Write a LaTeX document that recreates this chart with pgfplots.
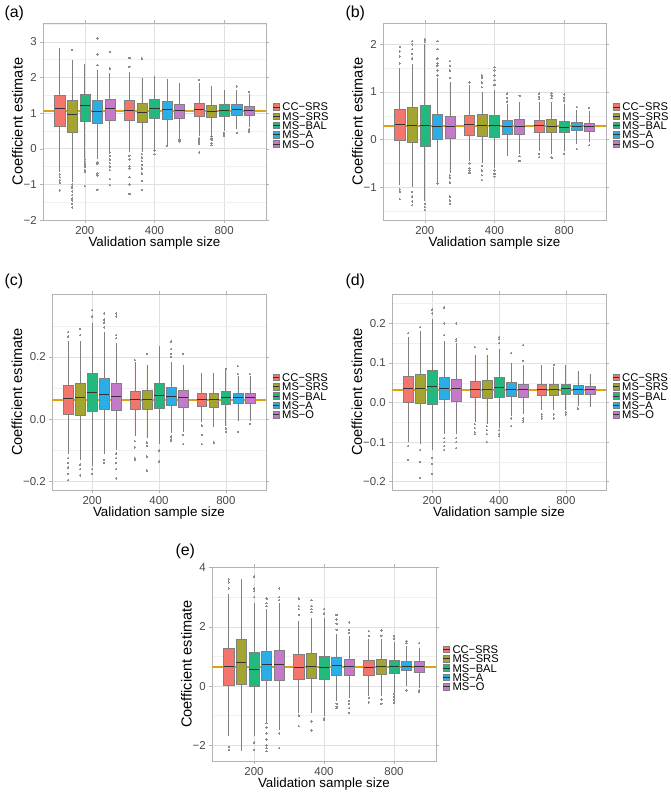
\documentclass[border=0pt]{standalone}
\usepackage{fontspec}
\setmainfont{Liberation Sans}
\usepackage{pgfplots}
\pgfplotsset{compat=1.18}
\usepgfplotslibrary{statistics}

\definecolor{cCC}{HTML}{F2766E}
\definecolor{cSRS}{HTML}{A4A531}
\definecolor{cBAL}{HTML}{23B87E}
\definecolor{cA}{HTML}{2BAEE5}
\definecolor{cO}{HTML}{C47AC8}
\definecolor{refline}{HTML}{E0A014}

% one box: position, colour, lower whisker, Q1, median, Q3, upper whisker, outliers
\newcommand{\bx}[8]{\addplot[forget plot, fill=#2, mark=*, mark size=0.7bp,
  mark options={draw=black!45, fill=black!45, line width=0pt},
  boxplot prepared={draw position=#1, lower whisker=#3, lower quartile=#4,
  median=#5, upper quartile=#6, upper whisker=#7}] coordinates {#8};}

\newcommand{\legendboxes}{%
  \addlegendimage{bxleg=cCC}\addlegendentry{CC−SRS}
  \addlegendimage{bxleg=cSRS}\addlegendentry{MS−SRS}
  \addlegendimage{bxleg=cBAL}\addlegendentry{MS−BAL}
  \addlegendimage{bxleg=cA}\addlegendentry{MS−A}
  \addlegendimage{bxleg=cO}\addlegendentry{MS−O}}

\pgfplotsset{
  panel/.style={
    scale only axis, xmin=0.4, xmax=3.6,
    xtick={1,2,3}, xticklabels={200,400,800},
    axis line style={draw=black!30},
    grid=both,
    major grid style={draw=black!12, line width=0.6bp},
    minor grid style={draw=black!6, line width=0.4bp},
    tick align=outside, major tick length=2.8bp, minor tick length=0pt,
    every tick/.style={draw=black!30, line width=0.5bp},
    ticklabel style={font=\fontsize{11.5}{11.5}\selectfont, text=black!72},
    xlabel={Validation sample size}, ylabel={Coefficient estimate},
    xlabel style={font=\fontsize{13.4}{13.4}\selectfont, yshift=4bp},
    ylabel style={font=\fontsize{14.6}{14.6}\selectfont, yshift=-6bp},
    boxplot/draw direction=y,
    boxplot/box extend=0.145, boxplot/whisker extend=0,
    boxplot/every box/.style={draw=black!50, line width=0.5bp},
    boxplot/every whisker/.style={draw=black!50, line width=0.8bp},
    boxplot/every median/.style={draw=black!80, line width=1bp},
    legend style={at={(1.03,0.48)}, anchor=west, draw=none, fill=none,
      font=\fontsize{11.2}{11.2}\selectfont, row sep=0pt, column sep=2bp, inner sep=0pt,
      nodes={inner sep=0.5bp, text height=8.3bp, text depth=0bp}},
    legend cell align=left,
  },
  bxleg/.style={legend image code/.code={
    \draw[fill=#1, draw=black!50, line width=0.5bp] (0bp,-3.3bp) rectangle (6.5bp,3.3bp);
    \draw[black!80, line width=0.6bp] (0bp,0bp) -- (6.5bp,0bp);}},
}

\begin{document}
\begin{tikzpicture}
\path[use as bounding box] (0,0) rectangle (671bp,-795bp);

% (a)
\node[anchor=west, font=\fontsize{16}{16}\selectfont] at (1bp,-13.5bp) {(a)};
\begin{axis}[panel, at={(43bp,-23bp)}, anchor=north west, width=223bp, height=197bp,
  ymin=-2, ymax=3.53, ytick={-2,-1,0,1,2,3}, yticklabels={−2,−1,0,1,2,3},
  minor ytick={-1.5,-0.5,0.5,1.5,2.5,3.5}]
\addplot[forget plot, refline, line width=2.2bp] coordinates {(0.4,1.06) (3.6,1.06)};
\bx{0.64}{cCC}{-0.65}{0.62}{1.12}{1.49}{2.82}{(0,-0.72)(0,-0.8)(0,-0.88)(0,-0.95)(0,-1.17)}
\bx{0.82}{cSRS}{-0.93}{0.46}{0.97}{1.35}{2.5}{(0,2.78)(0,-1.0)(0,-1.05)(0,-1.1)(0,-1.2)(0,-1.3)(0,-1.4)(0,-1.45)(0,-1.55)(0,-1.65)}
\bx{1.00}{cBAL}{-0.25}{0.77}{1.21}{1.52}{2.38}{(0,-0.3)(0,-0.35)(0,-0.4)(0,-0.45)(0,-0.5)(0,-0.6)(0,-0.65)(0,-1.05)}
\bx{1.18}{cA}{-0.3}{0.71}{1.04}{1.36}{2.22}{(0,2.35)(0,2.65)(0,3.1)(0,-0.38)(0,-0.42)(0,-0.7)(0,-0.75)(0,-1.15)}
\bx{1.36}{cO}{-0.05}{0.81}{1.13}{1.39}{2.12}{(0,2.25)(0,2.72)(0,-0.1)(0,-0.2)(0,-0.3)(0,-0.4)(0,-0.5)(0,-0.6)(0,-0.85)(0,-1.02)}
\bx{1.64}{cCC}{-0.1}{0.79}{1.08}{1.37}{2.15}{(0,2.3)(0,2.55)(0,-0.2)(0,-0.3)(0,-0.5)(0,-0.55)(0,-0.8)(0,-1.0)(0,-1.27)}
\bx{1.82}{cSRS}{-0.1}{0.73}{1.03}{1.28}{2.0}{(0,2.53)(0,-0.15)(0,-0.25)(0,-0.35)(0,-0.45)(0,-0.55)(0,-0.7)(0,-0.9)(0,-1.15)}
\bx{2.00}{cBAL}{0.0}{0.85}{1.13}{1.40}{2.03}{(0,-0.05)(0,-0.15)}
\bx{2.18}{cA}{0.1}{0.83}{1.09}{1.32}{1.97}{(0,0.08)}
\bx{2.36}{cO}{0.3}{0.87}{1.06}{1.25}{1.85}{(0,0.27)(0,0.22)(0,0.2)}
\bx{2.64}{cCC}{0.35}{0.90}{1.10}{1.27}{1.85}{(0,1.93)(0,0.3)(0,0.25)(0,0.2)(0,0.15)(0,-0.1)}
\bx{2.82}{cSRS}{0.4}{0.88}{1.05}{1.22}{1.75}{(0,0.35)(0,0.3)(0,0.25)(0,0.15)(0,0.1)}
\bx{3.00}{cBAL}{0.5}{0.92}{1.08}{1.25}{1.65}{(0,0.45)(0,0.4)(0,0.35)}
\bx{3.18}{cA}{0.55}{0.94}{1.09}{1.25}{1.65}{(0,1.75)(0,0.45)}
\bx{3.36}{cO}{0.6}{0.94}{1.08}{1.20}{1.55}{(0,1.6)(0,0.55)(0,0.5)(0,0.47)}
\legendboxes
\end{axis}

% (b)
\node[anchor=west, font=\fontsize{16}{16}\selectfont] at (342bp,-13.5bp) {(b)};
\begin{axis}[panel, at={(383bp,-23bp)}, anchor=north west, width=223bp, height=197bp,
  ymin=-1.69, ymax=2.45, ytick={-1,0,1,2}, yticklabels={−1,0,1,2},
  minor ytick={-1.5,-0.5,0.5,1.5}]
\addplot[forget plot, refline, line width=2.2bp] coordinates {(0.4,0.28) (3.6,0.28)};
\bx{0.64}{cCC}{-0.95}{-0.02}{0.31}{0.64}{1.5}{(0,1.6)(0,1.75)(0,1.85)(0,1.95)(0,-1.05)(0,-1.1)(0,-1.25)}
\bx{0.82}{cSRS}{-1.0}{-0.05}{0.30}{0.67}{1.58}{(0,1.7)(0,1.8)(0,1.9)(0,2.0)(0,2.07)(0,-1.1)(0,-1.2)(0,-1.3)(0,-1.38)}
\bx{1.00}{cBAL}{-1.3}{-0.13}{0.29}{0.73}{2.0}{(0,2.05)(0,2.1)(0,-1.35)(0,-1.42)(0,-1.48)}
\bx{1.18}{cA}{-0.9}{0.01}{0.27}{0.53}{1.3}{(0,1.35)(0,1.45)(0,1.55)(0,1.6)(0,1.7)(0,1.9)(0,2.07)(0,-0.92)}
\bx{1.36}{cO}{-0.7}{0.03}{0.27}{0.49}{1.2}{(0,1.3)(0,1.45)(0,1.55)(0,1.65)(0,-0.75)(0,-0.8)(0,-0.9)(0,-1.2)(0,-1.28)(0,-1.35)}
\bx{1.64}{cCC}{-0.45}{0.09}{0.31}{0.51}{1.15}{(0,1.2)(0,-0.5)(0,-0.6)(0,-0.65)(0,-0.7)}
\bx{1.82}{cSRS}{-0.5}{0.08}{0.30}{0.53}{1.0}{(0,1.1)(0,1.2)(0,1.3)(0,1.35)(0,-0.55)(0,-0.65)(0,-0.75)(0,-0.85)}
\bx{2.00}{cBAL}{-0.6}{0.04}{0.29}{0.51}{1.05}{(0,1.15)(0,1.25)(0,1.35)(0,1.45)(0,1.52)(0,-0.65)(0,-0.72)(0,-0.78)}
\bx{2.18}{cA}{-0.35}{0.11}{0.27}{0.41}{0.75}{(0,0.8)(0,0.88)(0,0.97)}
\bx{2.36}{cO}{-0.3}{0.11}{0.27}{0.43}{0.8}{(0,0.92)(0,-0.35)(0,-0.45)}
\bx{2.64}{cCC}{-0.25}{0.15}{0.29}{0.41}{0.8}{(0,0.85)(0,0.9)(0,0.97)(0,-0.3)(0,-0.37)}
\bx{2.82}{cSRS}{-0.3}{0.15}{0.28}{0.43}{0.8}{(0,0.87)(0,0.92)(0,0.97)(0,-0.38)}
\bx{3.00}{cBAL}{-0.25}{0.15}{0.26}{0.39}{0.75}{(0,0.82)(0,0.88)(0,0.95)(0,-0.3)}
\bx{3.18}{cA}{-0.1}{0.19}{0.28}{0.36}{0.62}{(0,0.68)(0,-0.2)}
\bx{3.36}{cO}{-0.05}{0.18}{0.27}{0.35}{0.6}{(0,0.67)(0,-0.12)}
\legendboxes
\end{axis}

% (c)
\node[anchor=west, font=\fontsize{16}{16}\selectfont] at (1bp,-281bp) {(c)};
\begin{axis}[panel, at={(52bp,-294bp)}, anchor=north west, width=214bp, height=196bp,
  ymin=-0.227, ymax=0.402, ytick={-0.2,0,0.2}, yticklabels={−0.2,0.0,0.2},
  minor ytick={-0.1,0.1,0.3}]
\addplot[forget plot, refline, line width=2.2bp] coordinates {(0.4,0.062) (3.6,0.062)};
\bx{0.64}{cCC}{-0.11}{0.017}{0.067}{0.109}{0.25}{(0,0.265)(0,0.28)(0,-0.125)(0,-0.14)(0,-0.155)(0,-0.175)(0,-0.195)}
\bx{0.82}{cSRS}{-0.13}{0.012}{0.069}{0.115}{0.25}{(0,0.27)(0,0.29)(0,-0.145)(0,-0.16)(0,-0.18)}
\bx{1.00}{cBAL}{-0.15}{0.025}{0.086}{0.149}{0.31}{(0,0.33)(0,0.35)(0,-0.16)(0,-0.175)}
\bx{1.18}{cA}{-0.11}{0.031}{0.080}{0.132}{0.28}{(0,0.295)(0,0.31)(0,0.32)(0,0.34)(0,-0.13)(0,-0.14)}
\bx{1.36}{cO}{-0.1}{0.028}{0.074}{0.115}{0.245}{(0,0.26)(0,0.27)(0,0.33)(0,0.34)(0,-0.11)(0,-0.125)(0,-0.14)(0,-0.16)(0,-0.19)}
\bx{1.64}{cCC}{-0.055}{0.031}{0.062}{0.090}{0.185}{(0,0.19)(0,-0.07)(0,-0.09)(0,-0.125)(0,-0.13)}
\bx{1.82}{cSRS}{-0.06}{0.031}{0.062}{0.092}{0.175}{(0,0.21)(0,-0.075)(0,-0.085)(0,-0.12)(0,-0.165)}
\bx{2.00}{cBAL}{-0.08}{0.036}{0.075}{0.114}{0.235}{(0,-0.1)(0,-0.135)}
\bx{2.18}{cA}{-0.045}{0.044}{0.072}{0.102}{0.185}{(0,0.2)(0,0.21)(0,0.225)(0,0.25)(0,-0.055)(0,-0.065)(0,-0.07)}
\bx{2.36}{cO}{-0.04}{0.040}{0.069}{0.093}{0.175}{(0,0.21)(0,-0.05)(0,-0.08)}
\bx{2.64}{cCC}{-0.01}{0.041}{0.064}{0.082}{0.15}{(0,-0.02)(0,-0.05)(0,-0.08)}
\bx{2.82}{cSRS}{-0.025}{0.040}{0.063}{0.082}{0.15}{(0,-0.075)}
\bx{3.00}{cBAL}{-0.02}{0.049}{0.071}{0.091}{0.16}{(0,0.162)(0,-0.03)(0,-0.04)}
\bx{3.18}{cA}{-0.005}{0.052}{0.069}{0.083}{0.14}{(0,0.145)(0,0.17)(0,-0.04)}
\bx{3.36}{cO}{-0.005}{0.052}{0.070}{0.084}{0.14}{(0,0.145)(0,-0.015)}
\legendboxes
\end{axis}

% (d)
\node[anchor=west, font=\fontsize{16}{16}\selectfont] at (342bp,-281bp) {(d)};
\begin{axis}[panel, at={(392bp,-294bp)}, anchor=north west, width=214bp, height=196bp,
  ymin=-0.221, ymax=0.274, ytick={-0.2,-0.1,0,0.1,0.2}, yticklabels={−0.2,−0.1,0.0,0.1,0.2},
  minor ytick={-0.15,-0.05,0.05,0.15,0.25}]
\addplot[forget plot, refline, line width=2.2bp] coordinates {(0.4,0.031) (3.6,0.031)};
\bx{0.64}{cCC}{-0.1}{0.0}{0.035}{0.067}{0.165}{(0,0.175)(0,-0.11)(0,-0.145)}
\bx{0.82}{cSRS}{-0.105}{-0.002}{0.035}{0.072}{0.18}{(0,0.19)(0,-0.12)(0,-0.15)(0,-0.19)}
\bx{1.00}{cBAL}{-0.12}{-0.004}{0.040}{0.081}{0.21}{(0,0.225)(0,0.235)(0,-0.14)(0,-0.155)(0,-0.18)}
\bx{1.18}{cA}{-0.08}{0.007}{0.035}{0.063}{0.155}{(0,0.17)(0,0.2)(0,0.24)(0,-0.09)(0,-0.1)(0,-0.11)(0,-0.12)}
\bx{1.36}{cO}{-0.08}{0.003}{0.035}{0.059}{0.15}{(0,0.155)(0,0.16)(0,0.2)(0,-0.09)(0,-0.1)(0,-0.115)}
\bx{1.64}{cCC}{-0.05}{0.013}{0.034}{0.053}{0.12}{(0,0.14)(0,-0.055)(0,-0.065)(0,-0.075)(0,-0.08)}
\bx{1.82}{cSRS}{-0.055}{0.011}{0.034}{0.056}{0.12}{(0,0.135)(0,-0.06)(0,-0.07)(0,-0.08)(0,-0.1)}
\bx{2.00}{cBAL}{-0.065}{0.012}{0.038}{0.063}{0.135}{(0,0.15)(0,0.16)(0,0.165)(0,-0.07)(0,-0.08)(0,-0.085)}
\bx{2.18}{cA}{-0.035}{0.016}{0.034}{0.051}{0.1}{(0,0.125)(0,-0.04)(0,-0.06)}
\bx{2.36}{cO}{-0.03}{0.014}{0.032}{0.045}{0.095}{(0,0.105)(0,0.145)(0,-0.04)(0,-0.045)(0,-0.05)}
\bx{2.64}{cCC}{-0.02}{0.019}{0.033}{0.045}{0.095}{(0,-0.03)(0,-0.035)(0,-0.04)}
\bx{2.82}{cSRS}{-0.02}{0.019}{0.034}{0.047}{0.09}{(0,0.095)(0,-0.03)(0,-0.04)}
\bx{3.00}{cBAL}{-0.02}{0.021}{0.035}{0.047}{0.095}{(0,-0.025)(0,-0.03)}
\bx{3.18}{cA}{-0.01}{0.022}{0.032}{0.043}{0.08}{(0,-0.015)}
\bx{3.36}{cO}{-0.012}{0.021}{0.032}{0.042}{0.072}{}
\legendboxes
\end{axis}

% (e)
\node[anchor=west, font=\fontsize{16}{16}\selectfont] at (172bp,-551bp) {(e)};
\begin{axis}[panel, at={(212bp,-567bp)}, anchor=north west, width=224bp, height=194bp,
  ymin=-2.53, ymax=4.02, ytick={-2,0,2,4}, yticklabels={−2,0,2,4},
  minor ytick={-1,1,3}]
\addplot[forget plot, refline, line width=2.2bp] coordinates {(0.4,0.65) (3.6,0.65)};
\bx{0.64}{cCC}{-1.7}{0.03}{0.65}{1.29}{3.12}{(0,3.3)(0,3.5)(0,3.6)(0,-2.05)(0,-2.15)}
\bx{0.82}{cSRS}{-2.19}{0.06}{0.80}{1.57}{3.63}{}
\bx{1.00}{cBAL}{-1.7}{0.01}{0.57}{1.13}{2.8}{(0,3.0)(0,3.2)(0,3.3)(0,3.7)(0,-1.9)(0,-2.15)}
\bx{1.18}{cA}{-1.2}{0.21}{0.72}{1.17}{2.6}{(0,2.7)(0,2.8)(0,2.95)(0,-1.25)(0,-1.4)(0,-1.6)(0,-1.8)(0,-2.0)(0,-2.1)(0,-2.2)}
\bx{1.36}{cO}{-1.5}{0.19}{0.73}{1.21}{2.8}{(0,2.9)(0,3.0)(0,3.3)(0,-1.6)(0,-2.1)}
\bx{1.64}{cCC}{-0.9}{0.24}{0.64}{1.06}{2.2}{(0,2.4)(0,2.6)(0,2.7)(0,2.95)(0,-1.0)(0,-1.35)}
\bx{1.82}{cSRS}{-0.9}{0.28}{0.67}{1.12}{2.3}{(0,2.5)(0,2.6)(0,2.7)(0,2.9)(0,-1.2)(0,-1.5)}
\bx{2.00}{cBAL}{-1.0}{0.24}{0.63}{1.02}{2.3}{(0,2.45)(0,2.6)(0,-1.1)(0,-1.15)}
\bx{2.18}{cA}{-0.5}{0.35}{0.70}{0.97}{1.75}{(0,1.9)(0,2.1)(0,2.25)(0,2.4)(0,-0.6)(0,-0.7)(0,-0.75)}
\bx{2.36}{cO}{-0.4}{0.36}{0.65}{0.92}{1.7}{(0,1.8)(0,1.9)(0,2.15)(0,-0.5)(0,-0.6)(0,-0.75)(0,-0.9)}
\bx{2.64}{cCC}{-0.35}{0.36}{0.64}{0.87}{1.6}{(0,1.7)(0,1.85)(0,-0.4)(0,-0.55)}
\bx{2.82}{cSRS}{-0.35}{0.39}{0.66}{0.92}{1.6}{(0,1.7)(0,1.87)(0,-0.45)(0,-0.6)}
\bx{3.00}{cBAL}{-0.2}{0.43}{0.66}{0.88}{1.5}{(0,1.6)(0,1.7)(0,-0.25)(0,-0.35)(0,-0.45)(0,-0.55)}
\bx{3.18}{cA}{0.0}{0.52}{0.67}{0.84}{1.35}{(0,1.45)(0,1.52)(0,-0.15)}
\bx{3.36}{cO}{-0.05}{0.47}{0.65}{0.83}{1.3}{(0,1.45)(0,-0.15)(0,-0.2)}
\legendboxes
\end{axis}
\end{tikzpicture}
\end{document}
